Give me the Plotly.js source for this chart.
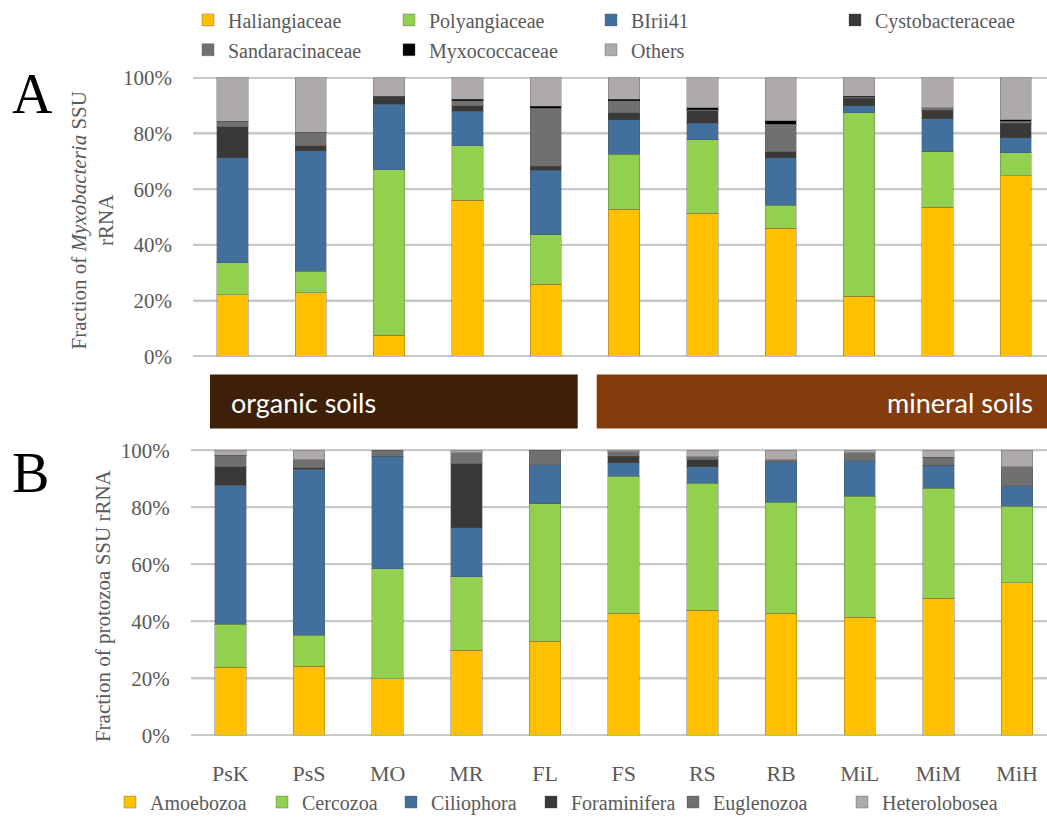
<!DOCTYPE html>
<html>
<head>
<meta charset="utf-8">
<script src="https://cdn.plot.ly/plotly-3.0.1.min.js"></script>
<style>
  html, body { margin: 0; padding: 0; background: #ffffff; }
  #chart { width: 1047px; height: 822px; }
</style>
</head>
<body>
<div id="chart"></div>
<script>
// Sites (x categories)
const sites = ['PsK', 'PsS', 'MO', 'MR', 'FL', 'FS', 'RS', 'RB', 'MiL', 'MiM', 'MiH'];

// Panel A: Myxobacteria families, % of SSU rRNA
const haliangiaceae    = [22.0, 22.8,  7.6, 56.1, 25.9, 52.7, 51.4, 45.9, 21.6, 53.5, 64.9];
const polyangiaceae    = [11.5,  7.7, 59.4, 19.5, 17.8, 19.9, 26.3,  8.4, 65.8, 19.9,  8.1];
const birii41          = [37.8, 43.3, 23.4, 12.3, 23.0, 12.3,  5.9, 17.0,  2.6, 11.9,  5.5];
const cystobacteraceae = [11.1,  1.8,  2.9,  2.1,  1.6,  2.5,  4.5,  2.1,  2.6,  3.1,  5.1];
const sandaracinaceae  = [ 2.0,  4.9,  0.0,  1.7, 20.8,  4.3,  0.5,  9.9,  0.4,  0.8,  0.7];
const myxococcaceae    = [ 0.0,  0.0,  0.0,  0.6,  0.6,  0.6,  0.7,  1.3,  0.3,  0.0,  0.6];
const othersMyxo       = [15.6, 19.5,  6.7,  7.7, 10.3,  7.7, 10.7, 15.4,  6.7, 10.8, 15.1];

// Panel B: protozoa groups, % of SSU rRNA
const amoebozoa     = [23.9, 24.3, 19.8, 29.9, 33.1, 42.8, 43.9, 42.8, 41.4, 48.1, 53.5];
const cercozoa      = [15.0, 10.8, 38.7, 25.7, 48.1, 48.0, 44.5, 38.9, 42.4, 38.6, 26.9];
const ciliophora    = [48.9, 58.2, 39.4, 17.3, 13.8,  4.9,  5.8, 14.2, 12.5,  8.0,  7.2];
const foraminifera  = [ 6.4,  0.5,  0.0, 22.4,  0.0,  2.2,  2.4,  0.0,  0.0,  0.0,  0.0];
const euglenozoa    = [ 4.1,  2.8,  2.1,  3.9,  5.0,  1.5,  1.2,  0.7,  2.9,  2.9,  6.6];
const heterolobosea = [ 1.7,  3.4,  0.0,  0.8,  0.0,  0.6,  2.2,  3.4,  0.8,  2.4,  5.8];

// Percent gridline levels
const yTicks = [0, 20, 40, 60, 80, 100];

const SERIF = 'Liberation Serif';
const GREY_TEXT = '#595959';
const GRID = '#C8C8C8';

function bar(name, values, color, xa, ya, legend, legendwidth) {
  return {
    type: 'bar', name: name, x: sites, y: values,
    xaxis: xa, yaxis: ya, legend: legend, legendwidth: legendwidth,
    marker: { color: color, line: { width: 1, color: 'rgba(80,80,80,0.35)' } },
    hovertemplate: '%{x}: %{y:.1f}%<extra>' + name + '</extra>'
  };
}

const traces = [
  bar('Haliangiaceae',    haliangiaceae,    '#FFC000', 'x', 'y', 'legend',  156),
  bar('Polyangiaceae',    polyangiaceae,    '#92D050', 'x', 'y', 'legend',  157),
  bar('BIrii41',          birii41,          '#41709C', 'x', 'y', 'legend',  199),
  bar('Cystobacteraceae', cystobacteraceae, '#3A3937', 'x', 'y', 'legend',  150),
  bar('Sandaracinaceae',  sandaracinaceae,  '#72706E', 'x', 'y', 'legend2', 156),
  bar('Myxococcaceae',    myxococcaceae,    '#000000', 'x', 'y', 'legend2', 157),
  bar('Others',           othersMyxo,       '#AEAAAA', 'x', 'y', 'legend2', 100),

  bar('Amoebozoa',     amoebozoa,     '#FFC000', 'x2', 'y2', 'legend3', 107),
  bar('Cercozoa',      cercozoa,      '#92D050', 'x2', 'y2', 'legend3', 84),
  bar('Ciliophora',    ciliophora,    '#41709C', 'x2', 'y2', 'legend3', 95),
  bar('Foraminifera',  foraminifera,  '#3A3937', 'x2', 'y2', 'legend3', 97),
  bar('Euglenozoa',    euglenozoa,    '#72706E', 'x2', 'y2', 'legend3', 124),
  bar('Heterolobosea', heterolobosea, '#AEAAAA', 'x2', 'y2', 'legend3', 120)
];

const W = 1047, H = 822;
const px = v => v / W;          // horizontal pixel -> paper
const py = v => 1 - v / H;      // vertical pixel (from top) -> paper

const topXDomain = [px(193.3), 1];
const botXDomain = [px(191), 1];

function yAxis(domain, anchor) {
  return {
    domain: domain, anchor: anchor, range: [0, 100.4], dtick: 20, ticksuffix: '%',
    ticks: 'outside', ticklen: 16, tickcolor: 'rgba(0,0,0,0)',
    showgrid: true, gridcolor: GRID, gridwidth: 2,
    zeroline: true, zerolinecolor: GRID, zerolinewidth: 2, showline: false,
    tickfont: { family: SERIF, size: 21, color: GREY_TEXT }
  };
}

function legendRow(x, y) {
  return {
    orientation: 'h', x: x, xanchor: 'left', y: y, yanchor: 'middle',
    bgcolor: 'rgba(0,0,0,0)', itemwidth: 30, traceorder: 'normal',
    font: { family: SERIF, size: 20, color: GREY_TEXT }
  };
}

// horizontal rules at each percent level, placed beneath both panels' columns
const gridShapes = [];
[['y', topXDomain], ['y2', botXDomain]].forEach(function (pair) {
  yTicks.forEach(function (v) {
    gridShapes.push({
      type: 'line', xref: 'paper', yref: pair[0], x0: pair[1][0], x1: pair[1][1], y0: v, y1: v,
      line: { color: GRID, width: 2 }, layer: 'below'
    });
  });
});

const layout = {
  width: W, height: H,
  margin: { l: 0, r: 0, t: 0, b: 0 },
  paper_bgcolor: '#FFFFFF', plot_bgcolor: '#FFFFFF',
  barmode: 'stack', bargap: 0.6,
  showlegend: true,
  xaxis: {
    domain: topXDomain, anchor: 'y', range: [-0.5, 10.4],
    showticklabels: false, showgrid: false, zeroline: false, showline: false
  },
  yaxis: yAxis([py(355), py(74)], 'x'),
  xaxis2: {
    domain: botXDomain, anchor: 'y2', range: [-0.5, 10.38],
    showgrid: false, zeroline: false, showline: false,
    ticks: 'outside', ticklen: 18, tickcolor: 'rgba(0,0,0,0)',
    tickfont: { family: SERIF, size: 22, color: GREY_TEXT }
  },
  yaxis2: yAxis([py(736), py(448.3)], 'x2'),
  legend:  legendRow(px(188), py(17)),
  legend2: legendRow(px(188), py(47)),
  legend3: legendRow(px(110), py(803)),
  shapes: gridShapes.concat([
    { type: 'rect', xref: 'paper', yref: 'paper', x0: px(210), x1: px(577.7), y0: py(427.7), y1: py(373.3),
      fillcolor: '#3E1F07', line: { width: 0 } },
    { type: 'rect', xref: 'paper', yref: 'paper', x0: px(596.7), x1: 1, y0: py(427.7), y1: py(373.3),
      fillcolor: '#843C0C', line: { width: 0 } }
  ]),
  annotations: [
    { text: 'organic soils', xref: 'paper', yref: 'paper', x: px(229), y: py(401.5),
      xanchor: 'left', yanchor: 'middle', showarrow: false,
      font: { family: 'Lato', size: 27, color: '#FFFFFF' } },
    { text: 'mineral soils', xref: 'paper', yref: 'paper', x: px(1035), y: py(401.5),
      xanchor: 'right', yanchor: 'middle', showarrow: false,
      font: { family: 'Lato', size: 27, color: '#FFFFFF' } },
    { text: 'Fraction of <i>Myxobacteria</i> SSU<br>rRNA', xref: 'paper', yref: 'paper',
      x: px(92.5), y: py(219), xanchor: 'center', yanchor: 'middle', textangle: -90, showarrow: false,
      font: { family: SERIF, size: 21, color: GREY_TEXT } },
    { text: 'Fraction of protozoa SSU rRNA', xref: 'paper', yref: 'paper',
      x: px(103), y: py(605), xanchor: 'center', yanchor: 'middle', textangle: -90, showarrow: false,
      font: { family: SERIF, size: 21, color: GREY_TEXT } },
    { text: 'A', xref: 'paper', yref: 'paper', x: px(32), y: py(91), xanchor: 'center', yanchor: 'middle',
      showarrow: false, font: { family: SERIF, size: 56, color: '#000000' } },
    { text: 'B', xref: 'paper', yref: 'paper', x: px(30), y: py(472), xanchor: 'center', yanchor: 'middle',
      showarrow: false, font: { family: SERIF, size: 56, color: '#000000' } }
  ]
};

Plotly.newPlot('chart', traces, layout, { displayModeBar: false });
</script>
</body>
</html>
